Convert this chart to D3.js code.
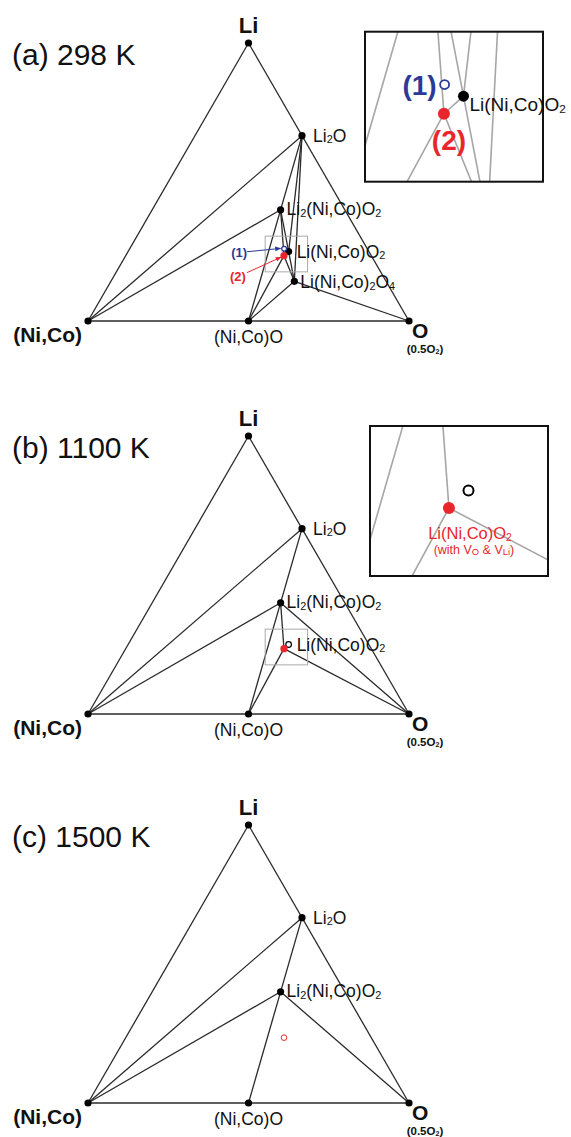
<!DOCTYPE html>
<html>
<head>
<meta charset="utf-8">
<script src="https://cdn.jsdelivr.net/npm/d3@7"></script>
<style>
  body { margin: 0; background: #fff; }
  svg { display: block; font-family: "Liberation Sans", Arial, sans-serif; }
</style>
</head>
<body>
<svg id="chart" width="571" height="1137"></svg>
<script>
// compositions are [Li, (Ni,Co), O] atomic fractions
var phaseKeys = ["Li", "M", "O", "Li2O", "Li2MO2", "LiMO2", "LiM2O4", "MO", "P1", "P2"];
var phaseComp = [
  [1, 0, 0], [0, 1, 0], [0, 0, 1],
  [2/3, 0, 1/3], [0.4, 0.2, 0.4], [0.25, 0.25, 0.5], [1/7, 2/7, 4/7], [0, 0.5, 0.5],
  [0.26, 0.259, 0.481],   // (1)
  [0.235, 0.272, 0.493]   // (2) / Li(Ni,Co)O2 with VO & VLi
];

var panelTitles = ["(a) 298 K", "(b) 1100 K", "(c) 1500 K"];

var edges = [["Li", "M"], ["Li", "O"], ["M", "O"]];
var tieLines = [
  [["Li2O","M"],["Li2MO2","M"],["Li2O","MO"],["Li2O","LiMO2"],["Li2O","LiM2O4"],["LiM2O4","O"],
   ["LiM2O4","MO"],["Li2MO2","P2"],["Li2MO2","LiMO2"],["MO","P2"],["P2","LiMO2"],["P2","LiM2O4"],["LiMO2","LiM2O4"]],
  [["Li2O","M"],["Li2MO2","M"],["Li2O","MO"],["Li2MO2","O"],["Li2MO2","P2"],["MO","P2"],["P2","O"]],
  [["Li2O","M"],["Li2MO2","M"],["Li2O","MO"],["Li2MO2","O"]]
];
var stablePhases = [
  ["Li","M","O","Li2O","Li2MO2","LiMO2","LiM2O4","MO"],
  ["Li","M","O","Li2O","Li2MO2","MO"],
  ["Li","M","O","Li2O","Li2MO2","MO"]
];
var labelled = [
  ["Li2O","Li2MO2","LiMO2","LiM2O4","MO"],
  ["Li2O","Li2MO2","LiMO2","MO"],
  ["Li2O","Li2MO2","MO"]
];
// text segments, [text, isSubscript]
var labelSegs = {
  Li2O:   [["Li"],["2",1],["O"]],
  Li2MO2: [["Li"],["2",1],["(Ni,Co)O"],["2",1]],
  LiMO2:  [["Li(Ni,Co)O"],["2",1]],
  LiM2O4: [["Li(Ni,Co)"],["2",1],["O"],["4",1]],
  MO:     [["(Ni,Co)O"]]
};
var oxygenSub = [["(0.5O"],["2",1],[")"]];
var defectLabel = [["(with V"],["O",1],[" & V"],["Li",1],[")"]];

// ---- layout
var baseY = [321, 714, 1103];
var side = 321, triH = 278;
var insetBox = [[365, 31.7], [370, 426]];
var insetW = 178, insetH = 150, zoomK = 4.2;
var blue = "#2b3a97", red = "#e8262b", lineCol = "#2a2a2a";

var comp = {};
phaseKeys.forEach(function(k, i) { comp[k] = phaseComp[i]; });

var svg = d3.select("#chart");

function richText(g, segs, x, y, size, anchor, fill, weight, subScale) {
  var t = g.append("text")
    .attr("x", x).attr("y", y)
    .attr("font-size", size)
    .attr("text-anchor", anchor)
    .attr("fill", fill || "#111")
    .attr("font-weight", weight || "normal");
  var shift = 0, k = subScale || 0.62;
  segs.forEach(function(s) {
    var sh = s[1] ? size * 0.1 : 0;
    t.append("tspan")
      .attr("dy", sh - shift)
      .attr("font-size", s[1] ? size * k : size)
      .text(s[0]);
    shift = sh;
  });
  return t;
}

panelTitles.forEach(function(title, p) {
  var g = svg.append("g");

  var x = d3.scaleLinear().domain([0, 1]).range([88, 88 + side]);
  var y = d3.scaleLinear().domain([0, 1]).range([baseY[p], baseY[p] - triH]);
  function pos(k) {
    var c = comp[k];
    return [x(c[2] + c[0] / 2), y(c[0])];
  }

  // title
  g.append("text")
    .attr("x", 12).attr("y", y(1) + 22)
    .attr("font-size", 30)
    .attr("fill", "#111")
    .text(title);

  // tie lines + triangle
  var lines = edges.concat(tieLines[p]);
  g.selectAll("line.tie")
    .data(lines)
    .enter().append("line")
    .attr("class", "tie")
    .attr("x1", function(d) { return pos(d[0])[0]; })
    .attr("y1", function(d) { return pos(d[0])[1]; })
    .attr("x2", function(d) { return pos(d[1])[0]; })
    .attr("y2", function(d) { return pos(d[1])[1]; })
    .attr("stroke", lineCol)
    .attr("stroke-width", 1.3);

  // zoom window around Li(Ni,Co)O2
  var ctr = pos("LiMO2");
  var sx0 = ctr[0] - 23.45, sy0 = ctr[1] - 15.36;
  if (p < 2) {
    g.append("rect")
      .attr("x", sx0).attr("y", sy0)
      .attr("width", insetW / zoomK).attr("height", insetH / zoomK)
      .attr("fill", "none").attr("stroke", "#aaa").attr("stroke-width", 1);
  }

  // stable phase dots
  g.selectAll("circle.ph")
    .data(stablePhases[p])
    .enter().append("circle")
    .attr("class", "ph")
    .attr("cx", function(d) { return pos(d)[0]; })
    .attr("cy", function(d) { return pos(d)[1]; })
    .attr("r", 3.6)
    .attr("fill", "#000");

  if (p === 0) {
    g.append("circle").attr("cx", pos("P1")[0]).attr("cy", pos("P1")[1]).attr("r", 2.4)
      .attr("fill", "#fff").attr("stroke", blue).attr("stroke-width", 1.3);
    g.append("circle").attr("cx", pos("P2")[0]).attr("cy", pos("P2")[1]).attr("r", 3.6).attr("fill", red);
  } else if (p === 1) {
    g.append("circle").attr("cx", pos("LiMO2")[0]).attr("cy", pos("LiMO2")[1]).attr("r", 2.8)
      .attr("fill", "#fff").attr("stroke", "#000").attr("stroke-width", 1.2);
    g.append("circle").attr("cx", pos("P2")[0]).attr("cy", pos("P2")[1]).attr("r", 3.6).attr("fill", red);
  } else {
    g.append("circle").attr("cx", pos("P2")[0]).attr("cy", pos("P2")[1]).attr("r", 2.8)
      .attr("fill", "none").attr("stroke", red).attr("stroke-width", 1);
  }

  // vertex labels
  var pLi = pos("Li"), pM = pos("M"), pO = pos("O");
  g.append("text").attr("x", pLi[0]).attr("y", pLi[1] - 10)
    .attr("text-anchor", "middle").attr("font-size", 22).attr("font-weight", "bold").attr("fill", "#111").text("Li");
  g.append("text").attr("x", pM[0] - 6).attr("y", pM[1] + 21)
    .attr("text-anchor", "end").attr("font-size", 21).attr("font-weight", "bold").attr("fill", "#111").text("(Ni,Co)");
  g.append("text").attr("x", pO[0] + 3).attr("y", pO[1] + 17)
    .attr("font-size", 21).attr("font-weight", "bold").attr("fill", "#111").text("O");
  richText(g, oxygenSub, pO[0] + 16, pO[1] + 31.5, 11.5, "middle", "#111", "bold");

  // phase labels
  var offs = { Li2O: [11, 6, "start"], Li2MO2: [6, 5, "start"], LiMO2: [8, 6, "start"],
               LiM2O4: [6, 7, "start"], MO: [0, 22, "middle"] };
  labelled[p].forEach(function(k) {
    var q = pos(k), o = offs[k];
    richText(g, labelSegs[k], q[0] + o[0], q[1] + o[1], 17.5, o[2], "#111");
  });

  // (1) and (2) call-outs in panel (a)
  if (p === 0) {
    var p1 = pos("P1"), p2 = pos("P2");
    g.append("text").attr("x", p1[0] - 53).attr("y", p1[1] + 8)
      .attr("font-size", 13).attr("font-weight", "bold").attr("fill", blue).text("(1)");
    g.append("text").attr("x", p2[0] - 54).attr("y", p2[1] + 25)
      .attr("font-size", 13).attr("font-weight", "bold").attr("fill", red).text("(2)");
    var defs = svg.append("defs");
    [["ab", blue], ["ar", red]].forEach(function(m) {
      defs.append("marker").attr("id", m[0]).attr("viewBox", "0 0 10 10")
        .attr("refX", 9).attr("refY", 5).attr("markerWidth", 6).attr("markerHeight", 6)
        .attr("orient", "auto")
        .append("path").attr("d", "M0,1L10,5L0,9Z").attr("fill", m[1]);
    });
    g.append("line").attr("x1", p1[0] - 37).attr("y1", p1[1] + 3).attr("x2", p1[0] - 3.5).attr("y2", p1[1] - 0.3)
      .attr("stroke", blue).attr("stroke-width", 1).attr("marker-end", "url(#ab)");
    g.append("line").attr("x1", p2[0] - 37).attr("y1", p2[1] + 17).attr("x2", p2[0] - 3).attr("y2", p2[1] + 1.5)
      .attr("stroke", red).attr("stroke-width", 1).attr("marker-end", "url(#ar)");
  }

  // magnified inset
  if (p < 2) {
    var bx = insetBox[p][0], by = insetBox[p][1];
    var ix = d3.scaleLinear().domain([sx0, sx0 + insetW / zoomK]).range([bx, bx + insetW]);
    var iy = d3.scaleLinear().domain([sy0, sy0 + insetH / zoomK]).range([by, by + insetH]);
    function ipos(k) { var q = pos(k); return [ix(q[0]), iy(q[1])]; }

    var clipId = "clip" + p;
    svg.append("defs").append("clipPath").attr("id", clipId)
      .append("rect").attr("x", bx).attr("y", by).attr("width", insetW).attr("height", insetH);

    var ig = g.append("g");
    ig.append("rect").attr("x", bx).attr("y", by).attr("width", insetW).attr("height", insetH).attr("fill", "#fff");
    ig.append("g").attr("clip-path", "url(#" + clipId + ")")
      .selectAll("line")
      .data(tieLines[p])
      .enter().append("line")
      .attr("x1", function(d) { return ipos(d[0])[0]; })
      .attr("y1", function(d) { return ipos(d[0])[1]; })
      .attr("x2", function(d) { return ipos(d[1])[0]; })
      .attr("y2", function(d) { return ipos(d[1])[1]; })
      .attr("stroke", "#a6a6a6")
      .attr("stroke-width", 1.6);
    ig.append("rect").attr("x", bx).attr("y", by).attr("width", insetW).attr("height", insetH)
      .attr("fill", "none").attr("stroke", "#111").attr("stroke-width", 2);

    var q1 = ipos("P1"), q2 = ipos("P2"), q0 = ipos("LiMO2");
    if (p === 0) {
      ig.append("circle").attr("cx", q1[0]).attr("cy", q1[1]).attr("r", 4.5)
        .attr("fill", "#fff").attr("stroke", blue).attr("stroke-width", 1.8);
      ig.append("circle").attr("cx", q0[0]).attr("cy", q0[1]).attr("r", 5.5).attr("fill", "#000");
      ig.append("circle").attr("cx", q2[0]).attr("cy", q2[1]).attr("r", 6).attr("fill", red);
      ig.append("text").attr("x", q1[0] - 8).attr("y", q1[1] + 10)
        .attr("text-anchor", "end").attr("font-size", 28).attr("font-weight", "bold").attr("fill", blue).text("(1)");
      ig.append("text").attr("x", q2[0] + 5).attr("y", q2[1] + 36)
        .attr("text-anchor", "middle").attr("font-size", 28).attr("font-weight", "bold").attr("fill", red).text("(2)");
      richText(ig, labelSegs.LiMO2, q0[0] + 6, q0[1] + 15, 19, "start", "#111");
    } else {
      ig.append("circle").attr("cx", q0[0]).attr("cy", q0[1]).attr("r", 5)
        .attr("fill", "#fff").attr("stroke", "#000").attr("stroke-width", 2);
      ig.append("circle").attr("cx", q2[0]).attr("cy", q2[1]).attr("r", 6).attr("fill", red);
      richText(ig, labelSegs.LiMO2, q2[0] + 21, q2[1] + 31, 16.5, "middle", red);
      richText(ig, defectLabel, q2[0] + 25, q2[1] + 46, 12.5, "middle", red, "normal", 0.75);
    }
  }
});
</script>
</body>
</html>
